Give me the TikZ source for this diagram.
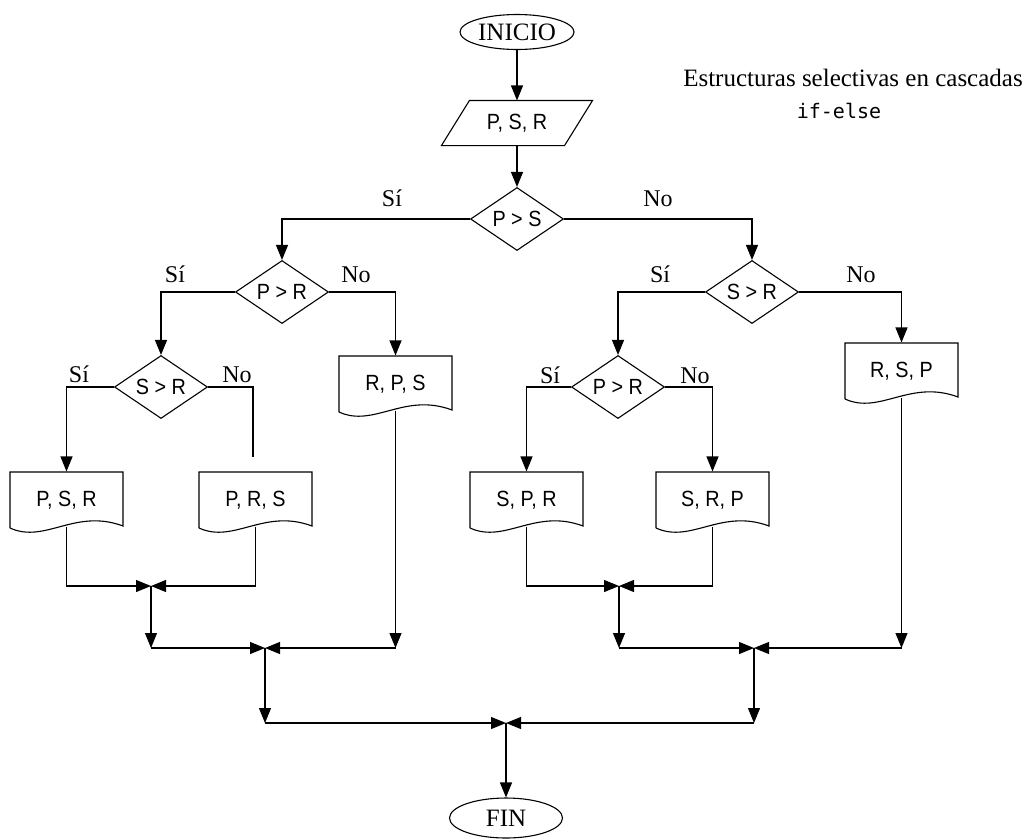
\documentclass[tikz,border=0pt]{standalone}
\usepackage{fontspec}
\setmainfont{Liberation Serif}
\newfontfamily\boxfont[FakeStretch=0.9]{Liberation Sans}
\newfontfamily\codefont{DejaVu Sans Mono}
\usetikzlibrary{shapes.geometric,arrows.meta}
\newcommand\docbox[4]{%
  \node[docnode] (#1) at (#2+56.5,#3+28) {#4};
  \draw (#2,#3+56) -- (#2,#3) -- (#2+113,#3) -- (#2+113,#3+54)
    .. controls (#2+65,#3+36) and (#2+35,#3+72) .. (#2,#3+56);}
\begin{document}
\begin{tikzpicture}[x=1pt,y=-1pt,line width=1.1pt,
  arr/.style={-{Triangle[width=12pt,length=15pt]}},
  lbl/.style={anchor=base,inner sep=0pt,font=\fontsize{24}{28}\selectfont},
  term/.style={ellipse,draw,inner sep=0pt,font=\fontsize{25}{30}\selectfont},
  dec/.style={diamond,draw,aspect=1.5,inner sep=0pt,minimum width=93pt,minimum height=63pt,font=\boxfont\fontsize{22}{26}\selectfont},
  docnode/.style={rectangle,inner sep=0pt,minimum width=113pt,minimum height=56pt,font=\boxfont\fontsize{22}{26}\selectfont}]
\useasboundingbox (0,0) rectangle (1030,839);

% title
\node[anchor=base,inner sep=0pt,font=\fontsize{25}{30}\selectfont] (title) at (853,86) {Estructuras selectivas en cascadas};
\node[anchor=base,inner sep=0pt,font=\codefont\fontsize{20}{24}\selectfont] (sub) at (839,118) {if-else};

% start and input
\node[term,minimum width=114pt,minimum height=35pt] (inicio) at (517,32) {INICIO};
\node[docnode,minimum width=122pt,minimum height=44pt] (data) at (517,123) {P, S, R};
\draw ([xshift=-14pt]data.south west) -- ([xshift=14pt]data.north west) -- ([xshift=14pt]data.north east) -- ([xshift=-14pt]data.south east) -- cycle;

% decisions
\node[dec] (d1) at (517,219) {P > S};
\node[dec] (d2) at (282,292) {P > R};
\node[dec] (d3) at (161,387) {S > R};
\node[dec] (d4) at (752,292) {S > R};
\node[dec] (d5) at (618,387) {P > R};

% output documents
\docbox{b1}{10}{472}{P, S, R}
\docbox{b2}{199}{472}{P, R, S}
\docbox{b3}{339}{356}{R, P, S}
\docbox{b4}{470}{472}{S, P, R}
\docbox{b5}{656}{472}{S, R, P}
\docbox{b6}{845}{343}{R, S, P}

% end
\node[term,minimum width=113pt,minimum height=40pt] (fin) at (506,818) {FIN};

% merge points
\coordinate (m1) at (151,586);
\coordinate (m2) at (619,586);
\coordinate (m3) at (265,648);
\coordinate (m4) at (754,648);
\coordinate (m5) at (506,723);
\coordinate (d3no) at (253,457);

% top flow
\draw[arr] (inicio) -- (data);
\draw[arr] (data) -- (d1);
\draw[arr] (d1.west) -| (d2.north);
\draw[arr] (d1.east) -| (d4.north);
\draw[arr] (d2.west) -| (d3.north);
\draw[arr] (d2.east) -| (b3.north);
\draw[arr] (d3.west) -| (b1.north);
\draw (d3.east) -| (d3no);
\draw[arr] (d4.west) -| (d5.north);
\draw[arr] (d4.east) -| (b6.north);
\draw[arr] (d5.west) -| (b4.north);
\draw[arr] (d5.east) -| (b5.north);

% labels
\node[lbl] (l1) at (392,206) {Sí};
\node[lbl] (l2) at (658,206) {No};
\node[lbl] (l3) at (175,282) {Sí};
\node[lbl] (l4) at (356,282) {No};
\node[lbl] (l5) at (79,382) {Sí};
\node[lbl] (l6) at (237,382) {No};
\node[lbl] (l7) at (660,282) {Sí};
\node[lbl] (l8) at (861,282) {No};
\node[lbl] (l9) at (550,383) {Sí};
\node[lbl] (l10) at (695,383) {No};

% bottom flow, left
\draw[arr] ([yshift=2pt]b1.south) |- (m1);
\draw[arr] ([yshift=2pt]b2.south) |- (m1);
\draw[arr] (m1) -- (m1 |- m3);
\draw[arr] (m1 |- m3) -- (m3);
\draw[arr] ([yshift=2pt]b3.south) -- (b3.south |- m3);
\draw[arr] (b3.south |- m3) -- (m3);
\draw[arr] (m3) -- (m3 |- m5);
\draw[arr] (m3 |- m5) -- (m5);

% bottom flow, right
\draw[arr] ([yshift=2pt]b4.south) |- (m2);
\draw[arr] ([yshift=2pt]b5.south) |- (m2);
\draw[arr] (m2) -- (m2 |- m4);
\draw[arr] (m2 |- m4) -- (m4);
\draw[arr] ([yshift=2pt]b6.south) -- (b6.south |- m4);
\draw[arr] (b6.south |- m4) -- (m4);
\draw[arr] (m4) -- (m4 |- m5);
\draw[arr] (m4 |- m5) -- (m5);

\draw[arr] (m5) -- (fin.north);
\end{tikzpicture}
\end{document}
